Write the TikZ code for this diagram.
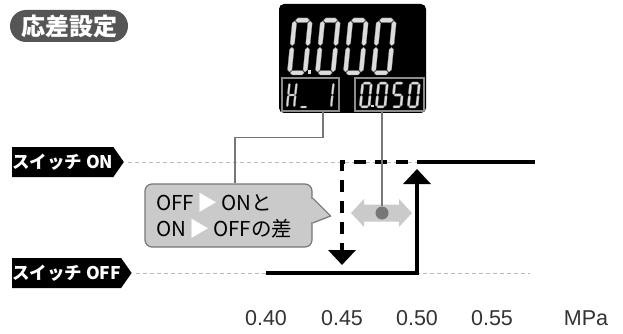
\documentclass[tikz,border=0pt]{standalone}
\usepackage{fontspec}
\setmainfont{Noto Sans CJK JP}
\newfontfamily\numfont{Liberation Sans}
\usetikzlibrary{arrows.meta,shapes.symbols}

\definecolor{pillgray}{HTML}{555555}
\definecolor{notegray}{HTML}{CACACA}
\definecolor{leadgray}{HTML}{777777}
\definecolor{guidegray}{HTML}{BBBBBB}
\definecolor{seggray}{HTML}{DCDCDC}

% white marker used inside the note
\newcommand{\wtri}{{\color{white}▶}}

% one segment of the display, horizontal or vertical
\newcommand{\lcdh}[1]{\filldraw[lcdseg] ({\seghalf+\seggap},{#1}) -- ({2*\seghalf+\seggap},{#1+\seghalf}) -- ({\dw-2*\seghalf-\seggap},{#1+\seghalf}) -- ({\dw-\seghalf-\seggap},{#1}) -- ({\dw-2*\seghalf-\seggap},{#1-\seghalf}) -- ({2*\seghalf+\seggap},{#1-\seghalf}) -- cycle;}
\newcommand{\lcdv}[3]{\filldraw[lcdseg] ({#1},{#2+\seggap}) -- ({#1+\seghalf},{#2+\seghalf+\seggap}) -- ({#1+\seghalf},{#3-\seghalf-\seggap}) -- ({#1},{#3-\seggap}) -- ({#1-\seghalf},{#3-\seghalf-\seggap}) -- ({#1-\seghalf},{#2+\seghalf+\seggap}) -- cycle;}
\newcommand{\lcdsega}{\lcdh{\dh-\seghalf}}
\newcommand{\lcdsegg}{\lcdh{\dh/2}}
\newcommand{\lcdsegd}{\lcdh{\seghalf}}
\newcommand{\lcdsegb}{\lcdv{\dw-\seghalf}{\dh/2}{\dh-\seghalf}}
\newcommand{\lcdsegc}{\lcdv{\dw-\seghalf}{\seghalf}{\dh/2}}
\newcommand{\lcdsegf}{\lcdv{\seghalf}{\dh/2}{\dh-\seghalf}}
\newcommand{\lcdsege}{\lcdv{\seghalf}{\seghalf}{\dh/2}}
% a digit: left, bottom, width, height, segments
\newcommand{\lcddigit}[5]{%
  \begin{scope}[shift={(#1,#2)},x=1pt,y=1pt,xslant=0.1]
    \def\dw{#3}\def\dh{#4}%
    \pgfmathsetmacro\seghalf{0.11*#3}%
    \pgfmathsetmacro\seggap{0.04*#3}%
    \foreach \sg in {#5} {\csname lcdseg\sg\endcsname}%
  \end{scope}}

\begin{document}
\begin{tikzpicture}[x=1pt,y=-1pt,
  pill/.style={fill=pillgray,text=white,rounded corners=16pt,minimum width=118pt,minimum height=32pt,inner sep=0pt,font=\fontsize{24}{24}\selectfont\bfseries},
  panel/.style={fill=black,rounded corners=5pt,minimum width=147pt,minimum height=109pt,inner sep=0pt},
  subbox/.style={draw=black!45,line width=1.5pt,minimum height=33pt,inner sep=0pt},
  lcdseg/.style={fill=seggray,draw=black!40,line width=0.3pt},
  swlabel/.style={signal,signal to=east,signal pointer angle=110,fill=black,text=white,minimum width=106pt,minimum height=30pt,inner sep=0pt,font=\fontsize{17.5}{17.5}\selectfont\bfseries},
  guide/.style={guidegray,line width=1pt,dash pattern=on 4pt off 3pt},
  lead/.style={leadgray,line width=1.2pt},
  bubble/.style={fill=notegray,draw=leadgray,line width=1.2pt,rounded corners=7pt,text width=145pt,inner xsep=11pt,minimum height=63pt,align=left,font=\fontsize{20.5}{26}\selectfont},
  stateline/.style={line width=4pt},
  jump/.style={stateline,-{Triangle[width=27pt,length=15pt]}},
  scalelabel/.style={font=\numfont\fontsize{21.5}{21.5}\selectfont,text=black!80}]
  \useasboundingbox (0,0) rectangle (623,334);

  % Title
  \node[pill] (title) at (69,26) {応差設定};

  % The display with its two sub readings
  \node[panel] (lcd) at (352.5,58.5) {};
  \node[subbox,minimum width=57pt] (hmode) at (310.5,94.5) {};
  \node[subbox,minimum width=69pt] (hval) at (389.5,94.5) {};
  \foreach \x in {287,315,343,371} {\lcddigit{\x}{75}{20}{57}{a,b,c,d,e,f}}
  \fill[seggray] (307.5,70.5) rectangle (311,74);
  \lcddigit{286}{108}{9}{26}{b,c,e,f,g}
  \lcddigit{299}{108}{9}{26}{d}
  \lcddigit{323}{108}{9}{26}{b,c}
  \lcddigit{359}{108}{11}{26}{a,b,c,d,e,f}
  \lcddigit{375}{108}{11}{26}{a,b,c,d,e,f}
  \lcddigit{391}{108}{11}{26}{a,c,d,f,g}
  \lcddigit{407}{108}{11}{26}{a,b,c,d,e,f}
  \fill[seggray] (371,105) rectangle (373.5,107.5);

  % Switch levels
  \node[swlabel,anchor=west] (swon) at (12,162) {スイッチ ON};
  \node[swlabel,anchor=west] (swoff) at (12,273) {スイッチ OFF};
  \coordinate (onend) at (535,162);
  \coordinate (offend) at (530,273);

  % Pressure scale
  \foreach \n/\x in {40/266,45/342,50/417,55/492}
    \node[scalelabel] (p\n) at (\x,318) {0.\n};
  \node[scalelabel] (unit) at (586,318) {MPa};

  \draw[guide,shorten <=4pt] (swon.east) -- (p50 |- swon.east);
  \draw[guide,shorten <=4pt] (swoff.east) -- (offend);

  % OFF to ON, then ON to OFF
  \draw[jump,shorten >=7pt] (p40 |- swoff.east) -- (p50 |- swoff.east) -- (p50 |- swon.east);
  \draw[stateline] (p50 |- swon.east) -- (onend);
  \draw[jump,shorten >=8pt,dash pattern=on 12pt off 9pt,dash phase=12pt] (p50 |- swon.east) -- (p45 |- swon.east) -- (p45 |- swoff.east);

  % Note with its pointer
  \node[bubble] (diffnote) at (228.5,215.5) {OFF\,\wtri\,ONと\\ON\,\wtri\,OFFの差};
  \filldraw[fill=notegray,draw=leadgray,line width=1.2pt] ([shift={(0,-17.5)}]diffnote.east) -- ([shift={(18,0.5)}]diffnote.east) -- ([shift={(0,7.5)}]diffnote.east);
  \fill[notegray] ([shift={(-1.5,-16.5)}]diffnote.east) rectangle ([shift={(0.8,6.5)}]diffnote.east);

  % Gap between the two set points
  \node[circle,fill=leadgray,minimum size=13pt,inner sep=0pt] (knob) at (382,213) {};
  \fill[notegray] ([shift={(-31,0)}]knob.center) -- ++(13,-14) -- ++(0,5.5) -- ++(35,0) -- ++(0,-5.5) -- ++(13,14) -- ++(-13,14) -- ++(0,-5.5) -- ++(-35,0) -- ++(0,5.5) -- cycle;
  \node[circle,fill=leadgray,minimum size=13pt,inner sep=0pt] at (knob) {};

  % Leads from the display
  \draw[lead] ([xshift=12.5pt]hmode.south) -- ++(0,26) -| ([xshift=6.5pt]diffnote.north);
  \draw[lead] (hval.south -| knob) -- (knob);
\end{tikzpicture}
\end{document}
